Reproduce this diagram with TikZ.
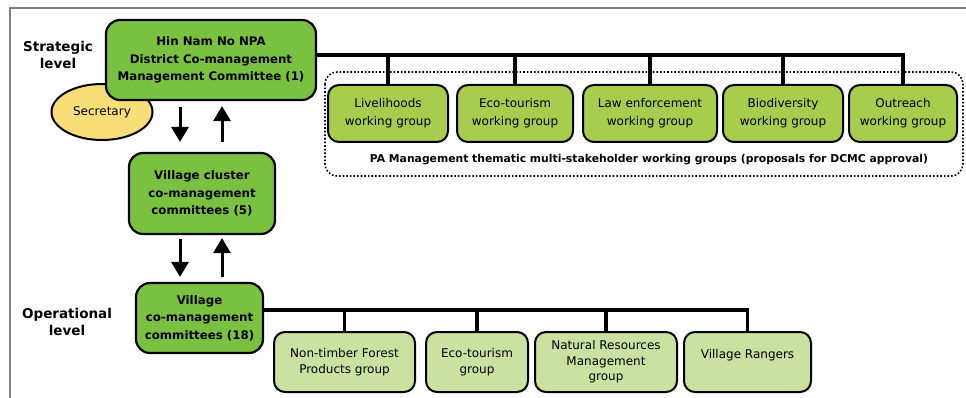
\documentclass[tikz,border=0pt]{standalone}
\usepackage{fontspec}
\setmainfont{DejaVu Sans}
\usetikzlibrary{arrows.meta,shapes.geometric}
\definecolor{dcmcgreen}{RGB}{122,193,66}
\definecolor{wggreen}{RGB}{168,204,78}
\definecolor{grpgreen}{RGB}{202,225,162}
\definecolor{secyellow}{RGB}{248,222,120}
\tikzstyle{committee} = [rectangle, rounded corners=14pt, draw, line width=2.2pt, fill=dcmcgreen, align=center, inner sep=0pt, font=\bfseries\fontsize{11.8}{17.5}\selectfont]
\tikzstyle{wgroup} = [rectangle, rounded corners=11pt, draw, line width=2pt, fill=wggreen, align=center, inner sep=0pt, minimum height=57pt, font=\fontsize{12}{18}\selectfont]
\tikzstyle{vgroup} = [rectangle, rounded corners=11pt, draw, line width=2pt, fill=grpgreen, align=center, inner sep=0pt, minimum height=60pt, font=\fontsize{12}{15.5}\selectfont]
\tikzstyle{level} = [align=center, font=\bfseries\fontsize{13.5}{17.5}\selectfont]
\tikzstyle{bus} = [line width=3.5pt]
\tikzstyle{flow} = [line width=3pt, -{Triangle[width=17pt,length=15pt]}]

\begin{document}
\begin{tikzpicture}[x=1pt, y=-1pt]
    \useasboundingbox (0,0) rectangle (966,398);
    \draw[gray, line width=1.2pt] (10,398) -- (10,8) -- (966,8);

    % levels
    \node[level] (strategic) at (58,55) {Strategic\\level};
    \node[level] (operational) at (67,322) {Operational\\level};

    % committees
    \node[ellipse, draw, line width=2pt, fill=secyellow, minimum width=101pt, minimum height=56pt, font=\fontsize{12}{14}\selectfont] (secretary) at (102,112) {Secretary};
    \node[committee, minimum width=210pt, minimum height=80pt] (dcmc) at (211,60) {Hin Nam No NPA\\District Co-management\\Management Committee (1)};
    \node[committee, minimum width=146pt, minimum height=81pt] (cluster) at (202,193.5) {Village cluster\\co-management\\committees (5)};
    \node[committee, minimum width=127pt, minimum height=70pt] (village) at (199.5,318) {Village\\co-management\\committees (18)};

    \coordinate (downx) at (180,0);
    \coordinate (upx) at (222,0);
    \draw[flow, shorten <=6pt, shorten >=10pt] (dcmc.south -| downx) -- (cluster.north -| downx);
    \draw[flow, shorten <=10pt, shorten >=5pt] (cluster.north -| upx) -- (dcmc.south -| upx);
    \draw[flow, shorten <=4pt, shorten >=5pt] (cluster.south -| downx) -- (village.north -| downx);
    \draw[flow, shorten <=5pt, shorten >=3pt] (village.north -| upx) -- (cluster.south -| upx);

    % working groups
    \draw[dotted, line width=1.6pt, rounded corners=12pt] (325,72) rectangle (963,176);
    \node[font=\bfseries\fontsize{10.8}{13}\selectfont] (wglabel) at (649,160) {PA Management thematic multi-stakeholder working groups (proposals for DCMC approval)};
    \node[wgroup, minimum width=120pt] (livelihoods) at (388,113.5) {Livelihoods\\working group};
    \node[wgroup, minimum width=116pt] (ecowg) at (515,113.5) {Eco-tourism\\working group};
    \node[wgroup, minimum width=134pt] (lawwg) at (650,113.5) {Law enforcement\\working group};
    \node[wgroup, minimum width=120pt] (biowg) at (783,113.5) {Biodiversity\\working group};
    \node[wgroup, minimum width=108pt] (outreach) at (903,113.5) {Outreach\\working group};

    \coordinate (topbus) at (0,55);
    \draw[bus] (dcmc.east |- topbus) -| (outreach.north);
    \foreach \wg in {livelihoods, ecowg, lawwg, biowg}
        \draw[bus] (\wg.north) -- (\wg.north |- topbus);

    % village groups
    \node[vgroup, minimum width=141pt] (ntfp) at (344.5,362) {Non-timber Forest\\Products group};
    \node[vgroup, minimum width=102pt] (ecogrp) at (477,362) {Eco-tourism\\group};
    \node[vgroup, minimum width=142pt] (nrm) at (606,362) {Natural Resources\\Management\\group};
    \node[vgroup, minimum width=127pt] (rangers) at (747.5,362) {Village Rangers\\[0pt]};

    \coordinate (lowbus) at (0,310);
    \draw[bus] (village.east |- lowbus) -| (rangers.north);
    \foreach \grp in {ntfp, ecogrp, nrm}
        \draw[bus] (\grp.north) -- (\grp.north |- lowbus);
\end{tikzpicture}
\end{document}
